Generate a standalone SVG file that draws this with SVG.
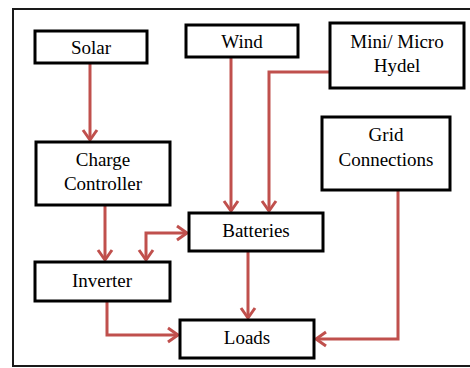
<svg xmlns="http://www.w3.org/2000/svg" width="470" height="368" viewBox="0 0 470 368">
<defs>
<style>
.box{fill:#fff;stroke:#000;stroke-width:3}
.c{fill:none;stroke:#C0504D;stroke-width:3}
.frame{fill:none;stroke:#1a1a1a;stroke-width:2}
</style>
<marker id="ah" markerUnits="userSpaceOnUse" markerWidth="16" markerHeight="18" viewBox="-12 -9 14 18" refX="0" refY="0" orient="auto-start-reverse">
<path d="M-10,-7 L0,0 L-10,7" fill="none" stroke="#C0504D" stroke-width="3"/>
</marker>
</defs>
<rect width="470" height="368" fill="#fff"/>
<path class="frame" d="M472,9 H13 V366 H472"/>
<g id="connectors">
<line class="c" x1="90" y1="63" x2="90" y2="140" marker-end="url(#ah)"/>
<line class="c" x1="231" y1="57" x2="231" y2="211" marker-end="url(#ah)"/>
<polyline class="c" points="330,72 269,72 269,211" marker-end="url(#ah)"/>
<polyline class="c" points="398,190 398,339 316,339" marker-end="url(#ah)"/>
<line class="c" x1="248" y1="251" x2="248" y2="318" marker-end="url(#ah)"/>
<line class="c" x1="105" y1="205" x2="105" y2="260" marker-end="url(#ah)"/>
<polyline class="c" points="107,301 107,335 178,335" marker-end="url(#ah)"/>
<polyline class="c" points="187,233 146,233 146,260" marker-start="url(#ah)" marker-end="url(#ah)"/>
</g>
<g id="solar"><rect class="box" x="35" y="31" width="112" height="32"/><text font-family="Liberation Serif" font-size="19" text-anchor="middle" x="91" y="54">Solar</text></g>
<g id="wind"><rect class="box" x="186" y="25" width="112" height="32"/><text font-family="Liberation Serif" font-size="19" text-anchor="middle" x="242" y="48">Wind</text></g>
<g id="hydel"><rect class="box" x="330" y="23" width="134" height="65"/><text font-family="Liberation Serif" font-size="19" text-anchor="middle" x="397" y="48">Mini/ Micro</text><text font-family="Liberation Serif" font-size="19" text-anchor="middle" x="397" y="72">Hydel</text></g>
<g id="grid"><rect class="box" x="322" y="117" width="128" height="73"/><text font-family="Liberation Serif" font-size="19" text-anchor="middle" x="386" y="141">Grid</text><text font-family="Liberation Serif" font-size="19" text-anchor="middle" x="386" y="166">Connections</text></g>
<g id="charge"><rect class="box" x="36" y="142" width="134" height="63"/><text font-family="Liberation Serif" font-size="19" text-anchor="middle" x="103" y="166">Charge</text><text font-family="Liberation Serif" font-size="19" text-anchor="middle" x="103" y="190">Controller</text></g>
<g id="batteries"><rect class="box" x="189" y="213" width="134" height="38"/><text font-family="Liberation Serif" font-size="19" text-anchor="middle" x="256" y="237">Batteries</text></g>
<g id="inverter"><rect class="box" x="35" y="262" width="135" height="39"/><text font-family="Liberation Serif" font-size="19" text-anchor="middle" x="102" y="287">Inverter</text></g>
<g id="loads"><rect class="box" x="180" y="320" width="134" height="38"/><text font-family="Liberation Serif" font-size="19" text-anchor="middle" x="247" y="344">Loads</text></g>
</svg>
